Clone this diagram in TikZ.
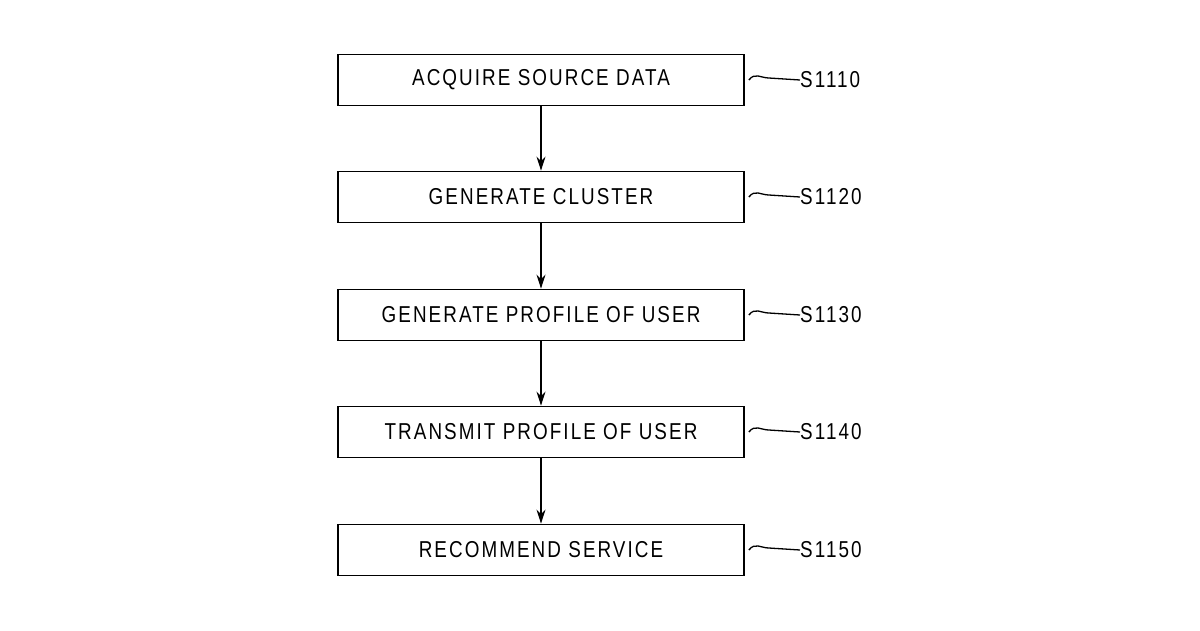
\documentclass[tikz,border=0pt]{standalone}
\usepackage{fontspec}
\setmainfont{Liberation Sans}[FakeStretch=0.82,LetterSpace=9]
\usetikzlibrary{arrows.meta}
\begin{document}
\begin{tikzpicture}[x=1pt,y=-1pt,
  box/.style={draw,line width=1.8pt,minimum width=406pt,minimum height=51pt,inner sep=0pt,font=\fontsize{23}{23}\selectfont},
  lab/.style={anchor=west,inner sep=0pt,font=\fontsize{23}{23}\selectfont},
  arr/.style={line width=1.5pt,-{Stealth[length=14pt,width=9pt]}},
  sq/.style={line width=1.3pt}]
\useasboundingbox (0,0) rectangle (1200,630);
\foreach \i/\y/\t/\s in {1/80/ACQUIRE SOURCE DATA/S1110,2/197/GENERATE CLUSTER/S1120,3/315/GENERATE PROFILE OF USER/S1130,4/432/TRANSMIT PROFILE OF USER/S1140,5/550/RECOMMEND SERVICE/S1150}{
  \node[box] (b\i) at (541,\y) {\t};
  \node[lab] (l\i) at (800,\y) {\s};
  \draw[sq] (b\i.east) ++(4,0) .. controls +(6,-8) and +(-8,0) .. ++(20,-2) -- (l\i.west);
}
\foreach \a/\b in {1/2,2/3,3/4,4/5} \draw[arr] (b\a) -- (b\b);
\end{tikzpicture}
\end{document}
